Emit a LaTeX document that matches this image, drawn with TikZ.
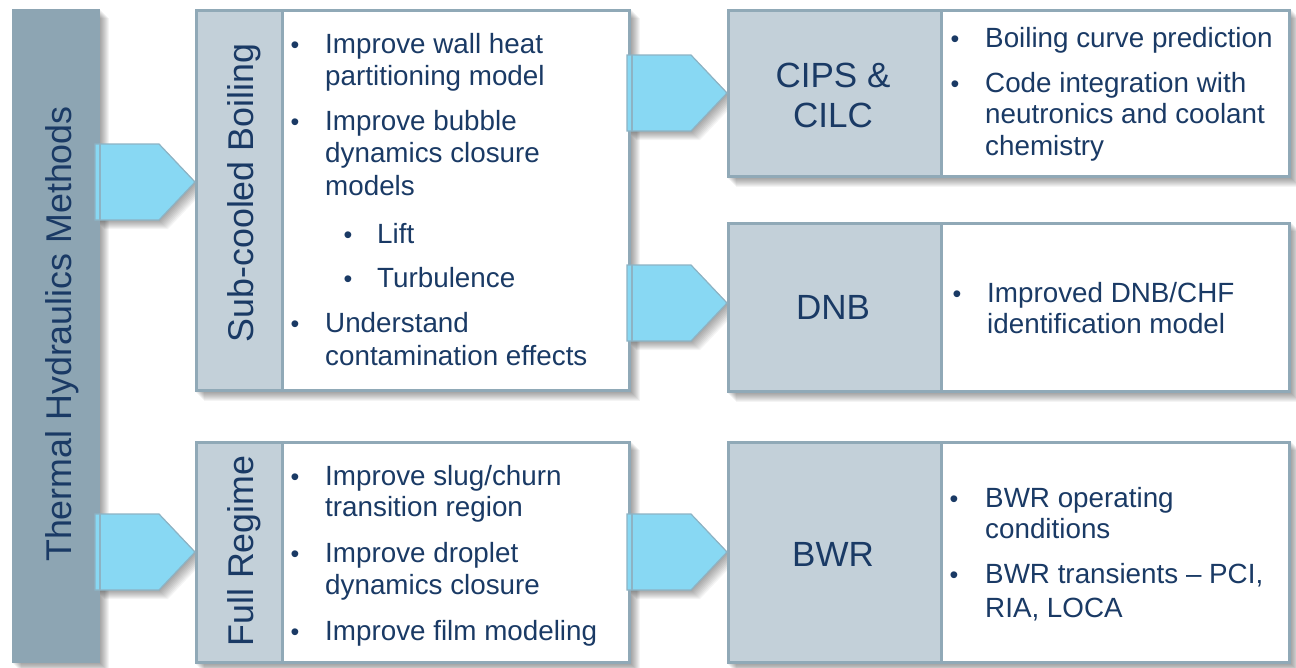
\documentclass[tikz,border=0pt]{standalone}
\usepackage{fontspec}
\setmainfont{Liberation Sans}
\usetikzlibrary{calc}
\definecolor{barfill}{HTML}{8DA5B3}
\definecolor{cellfill}{HTML}{C3D0D9}
\definecolor{edge}{HTML}{90A9B7}
\definecolor{arrowfill}{HTML}{88D8F3}
\definecolor{arrowedge}{HTML}{8DB3C4}
\definecolor{navy}{HTML}{1A3A65}
\pgfdeclarelayer{shadow}
\pgfdeclarelayer{paper}
\pgfsetlayers{paper,shadow,main}
% soft shadow of a box: stacked, shifted translucent rectangles
\newcommand\boxshadow[2]{%
  \begin{pgfonlayer}{shadow}
    \foreach \s in {1,...,9}{\fill[black,opacity=0.045]
      ($(#1)+(\s,\s)$) rectangle ($(#2)+(\s,\s)$);}
  \end{pgfonlayer}}
% pentagon block arrow ending at a tip point
\newcommand\chevron[1]{#1 -- ++(-36,-38) -- ++(-64,0) -- ++(0,76) -- ++(64,0) -- cycle}
\newcommand\blockarrow[1]{%
  \begin{pgfonlayer}{shadow}
    \foreach \s in {1,...,9}{\fill[black,opacity=0.045] \chevron{($(#1)+(\s,\s)$)};}
  \end{pgfonlayer}
  \draw[arrowbody] \chevron{(#1)};
  \draw[arrowedge,line width=1.3pt] ($(#1)+(-95,-38)$) -- ++(0,76);}
\begin{document}
\begin{tikzpicture}[x=1pt,y=-1pt,
  frame/.style={draw=edge,line width=3pt},
  labcell/.style={frame,fill=cellfill,anchor=north west,inner sep=0pt},
  txtcell/.style={frame,fill=white,anchor=north west,inner sep=0pt},
  arrowbody/.style={fill=arrowfill,draw=arrowedge,line width=1.2pt,line join=miter},
  item/.style={anchor=base west,inner sep=0pt,text=navy,font=\fontsize{27.8}{33}\selectfont},
  dot/.style={anchor=base,inner sep=0pt,text=navy,font=\fontsize{25}{28}\selectfont},
  vlabel/.style={rotate=90,anchor=base,inner sep=0pt,text=navy,font=\fontsize{35.8}{40}\selectfont},
  blabel/.style={anchor=base,inner sep=0pt,text=navy,font=\fontsize{35}{40}\selectfont},
  ]
\useasboundingbox (0,0) rectangle (1296,667);
\begin{pgfonlayer}{paper}
  \fill[white] (0,0) rectangle (1296,667);
\end{pgfonlayer}

% left column
\node[fill=barfill,draw=barfill,line width=1pt,anchor=north west,inner sep=0pt,
      minimum width=87pt,minimum height=653pt] (thm) at (12,9) {};
\boxshadow{thm.north west}{thm.south east}
\node[vlabel] (thmtxt) at (71,334) {Thermal Hydraulics Methods};

% middle boxes
\node[labcell,minimum width=86pt,minimum height=380pt] (sublab) at (195,9) {};
\node[txtcell,minimum width=347pt,minimum height=380pt] (subtxt) at (281,9) {};
\boxshadow{sublab.north west}{subtxt.south east}
\node[vlabel] (subname) at (253,193) {Sub-cooled Boiling};

\node[labcell,minimum width=86pt,minimum height=220pt] (fulllab) at (195,441) {};
\node[txtcell,minimum width=347pt,minimum height=220pt] (fulltxt) at (281,441) {};
\boxshadow{fulllab.north west}{fulltxt.south east}
\node[vlabel] (fullname) at (253,551) {Full Regime};

% right boxes
\node[labcell,minimum width=213pt,minimum height=166pt] (cipslab) at (727,9) {};
\node[txtcell,minimum width=348pt,minimum height=166pt] (cipstxt) at (940,9) {};
\boxshadow{cipslab.north west}{cipstxt.south east}
\node[blabel] (cipsname1) at (833,87) {CIPS \&};
\node[blabel] (cipsname2) at (833,127) {CILC};

\node[labcell,minimum width=213pt,minimum height=168pt] (dnblab) at (727,222) {};
\node[txtcell,minimum width=348pt,minimum height=168pt] (dnbtxt) at (940,222) {};
\boxshadow{dnblab.north west}{dnbtxt.south east}
\node[blabel] (dnbname) at (833,319) {DNB};

\node[labcell,minimum width=213pt,minimum height=220pt] (bwrlab) at (727,441) {};
\node[txtcell,minimum width=348pt,minimum height=220pt] (bwrtxt) at (940,441) {};
\boxshadow{bwrlab.north west}{bwrtxt.south east}
\node[blabel] (bwrname) at (833,566) {BWR};

% block arrows between the columns
\coordinate (t1) at ($(sublab.north west)+(0,173)$);
\coordinate (t2) at ($(fulllab.north west)+(0,111)$);
\coordinate (t3) at ($(cipslab.north west)+(0,84)$);
\coordinate (t4) at ($(dnblab.north west)+(0,81)$);
\coordinate (t5) at ($(bwrlab.north west)+(0,111)$);
\blockarrow{t1}
\blockarrow{t2}
\blockarrow{t3}
\blockarrow{t4}
\blockarrow{t5}

% sub-cooled boiling items
\node[dot] (sd1) at (295,53) {•};
\node[item] (s1a) at (325,53) {Improve wall heat};
\node[item] (s1b) at (325,85) {partitioning model};
\node[dot] (sd2) at (295,130) {•};
\node[item] (s2a) at (325,130) {Improve bubble};
\node[item] (s2b) at (325,162) {dynamics closure};
\node[item] (s2c) at (325,195) {models};
\node[dot] (sd3) at (348,243) {•};
\node[item] (s3) at (377,243) {Lift};
\node[dot] (sd4) at (348,287) {•};
\node[item] (s4) at (377,287) {Turbulence};
\node[dot] (sd5) at (295,332) {•};
\node[item] (s5a) at (325,332) {Understand};
\node[item] (s5b) at (325,365) {contamination effects};

% full regime items
\node[dot] (fd1) at (295,485) {•};
\node[item] (f1a) at (325,485) {Improve slug/churn};
\node[item] (f1b) at (325,516) {transition region};
\node[dot] (fd2) at (295,562) {•};
\node[item] (f2a) at (325,562) {Improve droplet};
\node[item] (f2b) at (325,594) {dynamics closure};
\node[dot] (fd3) at (295,640) {•};
\node[item] (f3) at (325,640) {Improve film modeling};

% CIPS & CILC items
\node[dot] (cd1) at (955,47) {•};
\node[item] (c1) at (985,47) {Boiling curve prediction};
\node[dot] (cd2) at (955,92) {•};
\node[item] (c2a) at (985,92) {Code integration with};
\node[item] (c2b) at (985,123) {neutronics and coolant};
\node[item] (c2c) at (985,155) {chemistry};

% DNB items
\node[dot] (dd1) at (957,302) {•};
\node[item] (d1a) at (987,302) {Improved DNB/CHF};
\node[item] (d1b) at (987,333) {identification model};

% BWR items
\node[dot] (bd1) at (954,507) {•};
\node[item] (b1a) at (985,507) {BWR operating};
\node[item] (b1b) at (985,538) {conditions};
\node[dot] (bd2) at (954,583) {•};
\node[item] (b2a) at (985,583) {BWR transients – PCI,};
\node[item] (b2b) at (985,617) {RIA, LOCA};
\end{tikzpicture}
\end{document}
